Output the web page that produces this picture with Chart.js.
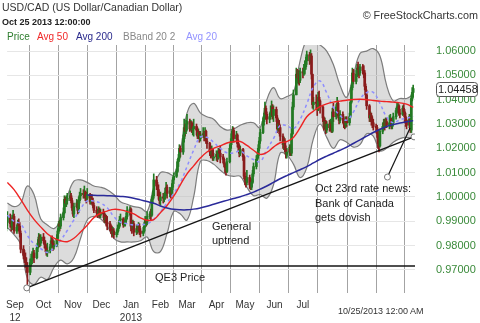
<!DOCTYPE html>
<html>
<head>
<meta charset="utf-8">
<script src="https://cdn.jsdelivr.net/npm/chart.js"></script>
<style>
    body { margin: 0; background: #fff; }
    #wrap { position: relative; width: 480px; height: 323px; overflow: hidden; font-family: 'Liberation Sans', Arial, sans-serif; }
    #myChart { position: absolute; left: 0; top: 0; }
    .txt { position: absolute; white-space: nowrap; line-height: 1; color: #222; }
</style>
</head>
<body>
<div id="wrap">
    <canvas id="myChart" width="480" height="323"></canvas>
    <div class="txt" style="left:2px;top:2px;font-size:10.5px;color:#333">USD/CAD (US Dollar/Canadian Dollar)</div>
    <div class="txt" style="left:2px;top:18px;font-size:9px;font-weight:bold;color:#222">Oct 25 2013 12:00:00</div>
    <div class="txt" style="right:2px;top:10px;font-size:10.8px;color:#333">© FreeStockCharts.com</div>
    <div class="txt" style="left:7px;top:32px;font-size:10px;color:#2e7d2e">Price</div>
    <div class="txt" style="left:37px;top:32px;font-size:10px;color:#f02828">Avg 50</div>
    <div class="txt" style="left:76px;top:32px;font-size:10px;color:#2a2a8c">Avg 200</div>
    <div class="txt" style="left:123px;top:32px;font-size:10px;color:#888">BBand 20 2</div>
    <div class="txt" style="left:186px;top:32px;font-size:10px;color:#9494ff">Avg 20</div>
    <div class="txt" style="left:212px;top:219px;font-size:11px;line-height:14px">General<br>uptrend</div>
    <div class="txt" style="left:315px;top:181px;font-size:11px;line-height:14.5px">Oct 23rd rate news:<br>Bank of Canada<br>gets dovish</div>
    <div class="txt" style="left:155px;top:272px;font-size:11px">QE3 Price</div>
    <div class="txt" style="left:338px;top:307px;font-size:9px;color:#333">10/25/2013 12:00 AM</div>
</div>
<script>
// days are counted from Sep 1 2012 (day 0)
const firstOpen = 0.9920;

// daily closes, one row per week (Mon..Fri), first row = week of Aug 20 2012
const closes = [
    0.9905, 0.9885, 0.9870, 0.9895, 0.9915,
    0.9890, 0.9880, 0.9905, 0.9920, 0.9860,
    0.9875, 0.9890, 0.9880, 0.9850, 0.9785,
    0.9760, 0.9750, 0.9730, 0.9716, 0.9690,
    0.9730, 0.9745, 0.9755, 0.9770, 0.9750,
    0.9790, 0.9810, 0.9835, 0.9810, 0.9835,
    0.9820, 0.9805, 0.9790, 0.9770, 0.9780,
    0.9795, 0.9820, 0.9810, 0.9795, 0.9800,
    0.9830, 0.9860, 0.9890, 0.9880, 0.9915,
    0.9935, 0.9990, 0.9975, 0.9985, 0.9995,
    1.0005, 0.9985, 0.9955, 0.9930, 0.9960,
    0.9975, 0.9945, 0.9985, 1.0005, 1.0015,
    1.0010, 1.0020, 1.0000, 0.9995, 1.0010,
    0.9980, 0.9995, 0.9985, 0.9965, 0.9945,
    0.9935, 0.9930, 0.9945, 0.9925, 0.9935,
    0.9930, 0.9905, 0.9915, 0.9895, 0.9890,
    0.9875, 0.9865, 0.9850, 0.9860, 0.9845,
    0.9855, 0.9870, 0.9880, 0.9905, 0.9910,
    0.9885, 0.9890, 0.9905, 0.9920, 0.9945,
    0.9950, 0.9880, 0.9870, 0.9890, 0.9855,
    0.9870, 0.9865, 0.9880, 0.9860, 0.9850,
    0.9860, 0.9880, 0.9905, 0.9895, 0.9920,
    0.9930, 0.9925, 0.9990, 1.0005, 1.0070,
    1.0045, 1.0030, 1.0010, 0.9985, 1.0000,
    0.9995, 1.0000, 1.0020, 1.0040, 1.0015,
    1.0025, 1.0015, 1.0040, 1.0070, 1.0085,
    1.0105, 1.0145, 1.0160, 1.0200, 1.0185,
    1.0240, 1.0285, 1.0270, 1.0300, 1.0310,
    1.0280, 1.0305, 1.0275, 1.0280, 1.0290,
    1.0275, 1.0250, 1.0265, 1.0240, 1.0255,
    1.0260, 1.0245, 1.0270, 1.0230, 1.0220,
    1.0185, 1.0175, 1.0195, 1.0160, 1.0165,
    1.0175, 1.0160, 1.0190, 1.0180, 1.0165,
    1.0155, 1.0135, 1.0120, 1.0105, 1.0145,
    1.0200, 1.0225, 1.0260, 1.0275, 1.0240,
    1.0255, 1.0220, 1.0205, 1.0180, 1.0195,
    1.0165, 1.0085, 1.0070, 1.0060, 1.0080,
    1.0050, 1.0040, 1.0060, 1.0095, 1.0125,
    1.0155, 1.0170, 1.0200, 1.0230, 1.0265,
    1.0310, 1.0330, 1.0365, 1.0340, 1.0320,
    1.0330, 1.0350, 1.0370, 1.0335, 1.0360,
    1.0325, 1.0280, 1.0300, 1.0285, 1.0250,
    1.0215, 1.0230, 1.0195, 1.0175, 1.0185,
    1.0205, 1.0180, 1.0260, 1.0370, 1.0420,
    1.0505, 1.0490, 1.0505, 1.0480, 1.0515,
    1.0510, 1.0525, 1.0535, 1.0560, 1.0585,
    1.0560, 1.0580, 1.0505, 1.0380, 1.0390,
    1.0385, 1.0360, 1.0410, 1.0395, 1.0370,
    1.0325, 1.0290, 1.0310, 1.0275, 1.0300,
    1.0285, 1.0300, 1.0270, 1.0350, 1.0330,
    1.0370, 1.0385, 1.0335, 1.0315, 1.0340,
    1.0320, 1.0300, 1.0295, 1.0315, 1.0305,
    1.0330, 1.0390, 1.0450, 1.0510, 1.0475,
    1.0505, 1.0530, 1.0525, 1.0510, 1.0535,
    1.0520, 1.0510, 1.0455, 1.0420, 1.0375,
    1.0325, 1.0335, 1.0310, 1.0305, 1.0290,
    1.0285, 1.0260, 1.0220, 1.0210, 1.0270,
    1.0290, 1.0305, 1.0295, 1.0310, 1.0295,
    1.0305, 1.0320, 1.0290, 1.0305, 1.0330,
    1.0355, 1.0370, 1.0375, 1.0345, 1.0340,
    1.0365, 1.0350, 1.0330, 1.0315, 1.0295,
    1.0330, 1.0275, 1.0405, 1.0430, 1.04458
];

const highs = [
    0.9935, 0.9925, 0.9900, 0.9910, 0.9940,
    0.9930, 0.9910, 0.9925, 0.9945, 0.9930,
    0.9885, 0.9905, 0.9910, 0.9895, 0.9860,
    0.9800, 0.9780, 0.9770, 0.9750, 0.9730,
    0.9745, 0.9765, 0.9775, 0.9790, 0.9780,
    0.9800, 0.9825, 0.9850, 0.9845, 0.9845,
    0.9850, 0.9835, 0.9820, 0.9800, 0.9810,
    0.9805, 0.9835, 0.9840, 0.9825, 0.9820,
    0.9845, 0.9870, 0.9900, 0.9905, 0.9930,
    0.9955, 1.0005, 1.0000, 1.0005, 1.0015,
    1.0025, 1.0015, 0.9995, 0.9965, 0.9975,
    0.9990, 0.9985, 1.0000, 1.0020, 1.0035,
    1.0030, 1.0045, 1.0025, 1.0020, 1.0035,
    1.0015, 1.0010, 1.0010, 0.9995, 0.9975,
    0.9960, 0.9950, 0.9960, 0.9955, 0.9950,
    0.9950, 0.9940, 0.9930, 0.9925, 0.9920,
    0.9900, 0.9885, 0.9880, 0.9875, 0.9870,
    0.9865, 0.9885, 0.9895, 0.9920, 0.9930,
    0.9915, 0.9900, 0.9915, 0.9935, 0.9960,
    0.9960, 0.9955, 0.9895, 0.9905, 0.9900,
    0.9885, 0.9885, 0.9895, 0.9890, 0.9870,
    0.9875, 0.9895, 0.9920, 0.9915, 0.9940,
    0.9940, 0.9950, 1.0000, 1.0025, 1.0095,
    1.0085, 1.0060, 1.0050, 1.0020, 1.0020,
    1.0015, 1.0015, 1.0035, 1.0060, 1.0050,
    1.0040, 1.0035, 1.0055, 1.0080, 1.0100,
    1.0115, 1.0155, 1.0175, 1.0215, 1.0210,
    1.0255, 1.0320, 1.0300, 1.0315, 1.0340,
    1.0320, 1.0315, 1.0310, 1.0300, 1.0320,
    1.0300, 1.0285, 1.0280, 1.0270, 1.0270,
    1.0285, 1.0270, 1.0285, 1.0275, 1.0245,
    1.0225, 1.0200, 1.0210, 1.0200, 1.0180,
    1.0190, 1.0185, 1.0200, 1.0200, 1.0210,
    1.0175, 1.0160, 1.0140, 1.0130, 1.0160,
    1.0215, 1.0240, 1.0270, 1.0290, 1.0285,
    1.0270, 1.0260, 1.0235, 1.0215, 1.0210,
    1.0200, 1.0170, 1.0100, 1.0085, 1.0110,
    1.0090, 1.0065, 1.0075, 1.0110, 1.0140,
    1.0170, 1.0185, 1.0215, 1.0245, 1.0280,
    1.0325, 1.0345, 1.0390, 1.0375, 1.0350,
    1.0345, 1.0375, 1.0395, 1.0380, 1.0375,
    1.0370, 1.0335, 1.0320, 1.0315, 1.0295,
    1.0260, 1.0245, 1.0240, 1.0210, 1.0200,
    1.0215, 1.0215, 1.0280, 1.0390, 1.0440,
    1.0530, 1.0525, 1.0520, 1.0520, 1.0530,
    1.0530, 1.0545, 1.0560, 1.0575, 1.0600,
    1.0595, 1.0605, 1.0590, 1.0500, 1.0410,
    1.0420, 1.0400, 1.0430, 1.0435, 1.0400,
    1.0375, 1.0330, 1.0325, 1.0315, 1.0310,
    1.0315, 1.0320, 1.0310, 1.0365, 1.0385,
    1.0380, 1.0410, 1.0395, 1.0340, 1.0355,
    1.0350, 1.0330, 1.0320, 1.0330, 1.0330,
    1.0345, 1.0400, 1.0460, 1.0530, 1.0525,
    1.0520, 1.0545, 1.0555, 1.0535, 1.0545,
    1.0545, 1.0540, 1.0520, 1.0465, 1.0440,
    1.0380, 1.0350, 1.0345, 1.0330, 1.0320,
    1.0300, 1.0295, 1.0275, 1.0235, 1.0280,
    1.0305, 1.0320, 1.0320, 1.0325, 1.0325,
    1.0335, 1.0340, 1.0325, 1.0320, 1.0345,
    1.0365, 1.0385, 1.0385, 1.0380, 1.0360,
    1.0375, 1.0380, 1.0360, 1.0345, 1.0320,
    1.0340, 1.0335, 1.0420, 1.0450, 1.0460
];

const lows = [
    0.9890, 0.9870, 0.9855, 0.9860, 0.9880,
    0.9875, 0.9860, 0.9865, 0.9890, 0.9850,
    0.9850, 0.9860, 0.9860, 0.9835, 0.9770,
    0.9745, 0.9730, 0.9710, 0.9690, 0.9640,
    0.9680, 0.9715, 0.9725, 0.9740, 0.9730,
    0.9745, 0.9775, 0.9795, 0.9795, 0.9800,
    0.9810, 0.9790, 0.9775, 0.9760, 0.9755,
    0.9770, 0.9790, 0.9795, 0.9780, 0.9785,
    0.9795, 0.9820, 0.9850, 0.9860, 0.9870,
    0.9905, 0.9930, 0.9960, 0.9960, 0.9970,
    0.9985, 0.9975, 0.9945, 0.9920, 0.9915,
    0.9955, 0.9930, 0.9935, 0.9975, 0.9990,
    0.9995, 0.9995, 0.9985, 0.9975, 0.9985,
    0.9970, 0.9970, 0.9970, 0.9955, 0.9935,
    0.9925, 0.9915, 0.9920, 0.9915, 0.9915,
    0.9915, 0.9895, 0.9895, 0.9880, 0.9865,
    0.9860, 0.9850, 0.9835, 0.9840, 0.9830,
    0.9835, 0.9845, 0.9860, 0.9875, 0.9890,
    0.9875, 0.9880, 0.9880, 0.9895, 0.9910,
    0.9925, 0.9860, 0.9850, 0.9865, 0.9840,
    0.9845, 0.9850, 0.9855, 0.9845, 0.9835,
    0.9840, 0.9855, 0.9875, 0.9880, 0.9885,
    0.9910, 0.9905, 0.9920, 0.9975, 0.9995,
    1.0030, 1.0005, 0.9990, 0.9970, 0.9965,
    0.9975, 0.9980, 0.9990, 1.0005, 0.9995,
    1.0000, 0.9995, 1.0005, 1.0030, 1.0055,
    1.0080, 1.0100, 1.0125, 1.0150, 1.0165,
    1.0175, 1.0225, 1.0250, 1.0260, 1.0275,
    1.0270, 1.0275, 1.0265, 1.0255, 1.0250,
    1.0255, 1.0240, 1.0240, 1.0225, 1.0230,
    1.0245, 1.0230, 1.0240, 1.0220, 1.0200,
    1.0170, 1.0160, 1.0165, 1.0150, 1.0150,
    1.0150, 1.0145, 1.0155, 1.0165, 1.0140,
    1.0140, 1.0125, 1.0100, 1.0090, 1.0100,
    1.0140, 1.0190, 1.0215, 1.0245, 1.0225,
    1.0230, 1.0205, 1.0190, 1.0165, 1.0170,
    1.0150, 1.0075, 1.0050, 1.0040, 1.0050,
    1.0035, 1.0030, 1.0030, 1.0055, 1.0085,
    1.0115, 1.0145, 1.0160, 1.0190, 1.0220,
    1.0260, 1.0295, 1.0320, 1.0320, 1.0300,
    1.0305, 1.0320, 1.0340, 1.0320, 1.0310,
    1.0310, 1.0265, 1.0270, 1.0260, 1.0230,
    1.0200, 1.0195, 1.0185, 1.0160, 1.0160,
    1.0170, 1.0170, 1.0170, 1.0255, 1.0360,
    1.0420, 1.0470, 1.0465, 1.0460, 1.0470,
    1.0490, 1.0500, 1.0505, 1.0525, 1.0545,
    1.0545, 1.0550, 1.0485, 1.0365, 1.0360,
    1.0360, 1.0335, 1.0355, 1.0380, 1.0345,
    1.0310, 1.0275, 1.0280, 1.0260, 1.0265,
    1.0270, 1.0275, 1.0265, 1.0265, 1.0310,
    1.0320, 1.0355, 1.0325, 1.0300, 1.0305,
    1.0305, 1.0285, 1.0280, 1.0285, 1.0290,
    1.0295, 1.0325, 1.0385, 1.0440, 1.0465,
    1.0465, 1.0495, 1.0500, 1.0490, 1.0500,
    1.0505, 1.0490, 1.0440, 1.0405, 1.0360,
    1.0310, 1.0310, 1.0295, 1.0285, 1.0275,
    1.0265, 1.0245, 1.0200, 1.0185, 1.0205,
    1.0260, 1.0280, 1.0275, 1.0285, 1.0285,
    1.0280, 1.0295, 1.0280, 1.0280, 1.0295,
    1.0320, 1.0345, 1.0350, 1.0335, 1.0325,
    1.0335, 1.0340, 1.0305, 1.0290, 1.0280,
    1.0285, 1.0265, 1.0265, 1.0395, 1.0410
];

// indicator lines, one value per week (Fridays)
const indDays = [
    -8, -1, 6, 13, 20, 27, 34, 41, 48, 55, 62, 69, 76, 83, 90, 97, 104, 111, 118, 125,
    132, 139, 146, 153, 160, 167, 174, 181, 188, 195, 202, 209, 216, 223, 230, 237, 244, 251, 258, 265,
    272, 279, 286, 293, 300, 307, 314, 321, 328, 335, 342, 349, 356, 363, 370, 377, 384, 391, 398, 405,
    412, 419
];
const avg20 = [
    0.9925, 0.9900, 0.9889, 0.9842, 0.9807, 0.9788, 0.9772, 0.9791, 0.9822, 0.9862,
    0.9906, 0.9951, 0.9984, 0.9983, 0.9975, 0.9956, 0.9919, 0.9896, 0.9890, 0.9885,
    0.9887, 0.9889, 0.9908, 0.9939, 0.9976, 1.0015, 1.0059, 1.0125, 1.0193, 1.0246,
    1.0245, 1.0225, 1.0200, 1.0182, 1.0181, 1.0189, 1.0169, 1.0154, 1.0145, 1.0195,
    1.0240, 1.0294, 1.0293, 1.0281, 1.0319, 1.0382, 1.0453, 1.0477, 1.0428, 1.0369,
    1.0335, 1.0316, 1.0349, 1.0402, 1.0429, 1.0430, 1.0385, 1.0329, 1.0305, 1.0318,
    1.0324, 1.0332
];
const bandUpper = [
    0.9975, 0.9960, 0.9975, 1.0045, 1.0010, 0.9910, 0.9885, 0.9870, 0.9905, 1.0000,
    1.0065, 1.0070, 1.0060, 1.0045, 1.0040, 1.0030, 1.0010, 0.9980, 0.9970, 0.9960,
    0.9955, 0.9940, 1.0040, 1.0100, 1.0100, 1.0090, 1.0190, 1.0345, 1.0385, 1.0346,
    1.0330, 1.0320, 1.0290, 1.0275, 1.0280, 1.0295, 1.0305, 1.0305, 1.0285, 1.0400,
    1.0450, 1.0405, 1.0413, 1.0430, 1.0560, 1.0645, 1.0640, 1.0625, 1.0600, 1.0545,
    1.0460, 1.0410, 1.0500, 1.0590, 1.0600, 1.0610, 1.0580, 1.0460, 1.0395, 1.0405,
    1.0405, 1.0420
];
const bandLower = [
    0.9875, 0.9845, 0.9805, 0.9665, 0.9640, 0.9670, 0.9660, 0.9710, 0.9740, 0.9725,
    0.9750, 0.9830, 0.9905, 0.9920, 0.9910, 0.9880, 0.9830, 0.9815, 0.9815, 0.9815,
    0.9820, 0.9835, 0.9775, 0.9775, 0.9850, 0.9940, 0.9930, 0.9905, 1.0000, 1.0146,
    1.0150, 1.0135, 1.0110, 1.0090, 1.0085, 1.0085, 1.0040, 1.0005, 1.0010, 0.9995,
    1.0050, 1.0180, 1.0173, 1.0135, 1.0080, 1.0120, 1.0240, 1.0300, 1.0245, 1.0200,
    1.0235, 1.0225, 1.0205, 1.0215, 1.0260, 1.0250, 1.0190, 1.0200, 1.0225, 1.0240,
    1.0245, 1.0240
];
const avg50 = [
    1.0060, 1.0030, 0.9990, 0.9946, 0.9908, 0.9877, 0.9849, 0.9831, 0.9820, 0.9816,
    0.9830, 0.9856, 0.9884, 0.9915, 0.9933, 0.9942, 0.9949, 0.9947, 0.9940, 0.9930,
    0.9914, 0.9904, 0.9907, 0.9935, 0.9965, 1.0003, 1.0050, 1.0095, 1.0128, 1.0160,
    1.0185, 1.0200, 1.0210, 1.0222, 1.0227, 1.0228, 1.0212, 1.0192, 1.0175, 1.0183,
    1.0205, 1.0223, 1.0228, 1.0245, 1.0285, 1.0330, 1.0353, 1.0372, 1.0383, 1.0390,
    1.0394, 1.0398, 1.0401, 1.0402, 1.0400, 1.0397, 1.0394, 1.0392, 1.0390, 1.0387,
    1.0382, 1.0368
];
// the 200-day line only starts in November
const avg200 = [
    null, null, null, null, null, null, null, null, null, null,
    null, null, 1.0008, 1.0007, 1.0006, 1.0005, 1.0004, 1.0002, 1.0000, 0.9995,
    0.9988, 0.9981, 0.9974, 0.9963, 0.9955, 0.9949, 0.9947, 0.9947, 0.9950, 0.9955,
    0.9962, 0.9970, 0.9978, 0.9986, 0.9994, 1.0001, 1.0010, 1.0020, 1.0032, 1.0045,
    1.0060, 1.0075, 1.0088, 1.0100, 1.0112, 1.0125, 1.0140, 1.0155, 1.0168, 1.0180,
    1.0192, 1.0205, 1.0220, 1.0235, 1.0250, 1.0265, 1.0278, 1.0290, 1.0298, 1.0304,
    1.0309, 1.0314
];

// axis
const monthDays = [0, 30, 61, 91, 122, 153, 181, 212, 242, 273, 303, 334, 365, 395];
const monthLabels = [['Sep', '12'], 'Oct', 'Nov', 'Dec', ['Jan', '2013'], 'Feb', 'Mar', 'Apr', 'May', 'Jun', 'Jul', '', '', ''];
const yTicks = [0.97, 0.98, 0.99, 1.00, 1.01, 1.02, 1.03, 1.04, 1.05, 1.06];

// drawn notes: [day, price]
const qe3Price = 0.97164;
const trendLine = [[12.4, 0.9626], [419.9, 1.0247]];
const newsPointer = [[391.9, 1.0082], [415.7, 1.0284]];

const xMin = -8.3;
const xMax = 420.9;
const UP = '#237a23';
const DOWN = '#8a1c1c';

function dayOf(i) {
    return -12 + 7 * Math.floor(i / 5) + (i % 5);
}

const opens = closes.map((c, i) => i === 0 ? firstOpen : closes[i - 1]);
const candleColors = closes.map((c, i) => c >= opens[i] ? UP : DOWN);
const wickData = closes.map((c, i) => ({x: dayOf(i), y: [lows[i], highs[i]]}));
const bodyData = closes.map((c, i) => ({x: dayOf(i), y: [opens[i], c]}));

function linePts(values) {
    const pts = [];
    values.forEach((v, i) => {
        if (v !== null) pts.push({x: indDays[i], y: v});
    });
    return pts;
}

const lastPriceBox = {
    id: 'lastPriceBox',
    afterDraw(chart) {
        const c = chart.ctx;
        const last = closes[closes.length - 1];
        const y = Math.round(chart.scales.y.getPixelForValue(last)) + 0.5;
        c.save();
        c.beginPath();
        c.roundRect(436.5, y - 7, 41, 14, 3);
        c.fillStyle = '#fff';
        c.fill();
        c.strokeStyle = '#555';
        c.lineWidth = 1;
        c.stroke();
        c.fillStyle = '#222';
        c.font = "11px 'Liberation Sans', Arial, sans-serif";
        c.textBaseline = 'middle';
        c.fillText(last.toFixed(5), 438, y + 0.5);
        c.restore();
    }
};

const ctx = document.getElementById('myChart').getContext('2d');

const myChart = new Chart(ctx, {
    type: 'bar',
    data: {
        datasets: [
            {
                type: 'line',
                data: linePts(bandUpper),
                borderColor: '#7c7c7c',
                borderWidth: 1.2,
                backgroundColor: 'rgba(185,185,185,0.5)',
                fill: '+1',
                pointRadius: 0,
                tension: 0.4,
                order: 10
            },
            {
                type: 'line',
                data: linePts(bandLower),
                borderColor: '#7c7c7c',
                borderWidth: 1.2,
                fill: false,
                pointRadius: 0,
                tension: 0.4,
                order: 9
            },
            {
                data: wickData,
                backgroundColor: candleColors,
                barThickness: 1,
                grouped: false,
                order: 6
            },
            {
                data: bodyData,
                backgroundColor: candleColors,
                barThickness: 2,
                minBarLength: 1,
                grouped: false,
                order: 5
            },
            {
                type: 'line',
                data: linePts(avg20),
                borderColor: '#8e8eff',
                borderWidth: 1.5,
                borderDash: [3, 3],
                pointRadius: 0,
                tension: 0.4,
                order: 4
            },
            {
                type: 'line',
                data: linePts(avg50),
                borderColor: '#ee2424',
                borderWidth: 1.4,
                pointRadius: 0,
                tension: 0.4,
                order: 3
            },
            {
                type: 'line',
                data: linePts(avg200),
                borderColor: '#2a2a9a',
                borderWidth: 1.5,
                pointRadius: 0,
                tension: 0.4,
                order: 2
            },
            {
                type: 'line',
                data: [{x: xMin, y: qe3Price}, {x: xMax, y: qe3Price}],
                borderColor: '#151515',
                borderWidth: 1.5,
                pointRadius: 0,
                order: 1
            },
            {
                type: 'line',
                data: trendLine.map(p => ({x: p[0], y: p[1]})),
                borderColor: '#151515',
                borderWidth: 1.4,
                pointRadius: 3,
                pointBackgroundColor: '#fff',
                pointBorderColor: '#777',
                pointBorderWidth: 1,
                order: 0
            },
            {
                type: 'line',
                data: newsPointer.map(p => ({x: p[0], y: p[1]})),
                borderColor: '#151515',
                borderWidth: 1.2,
                pointRadius: [3, 0],
                pointBackgroundColor: '#fff',
                pointBorderColor: '#777',
                pointBorderWidth: 1,
                order: 0
            }
        ]
    },
    options: {
        responsive: false,
        animation: false,
        devicePixelRatio: 1,
        layout: {padding: {top: 45, left: 0, right: 0, bottom: 0}},
        plugins: {
            legend: {display: false},
            tooltip: {enabled: false}
        },
        scales: {
            x: {
                type: 'linear',
                min: xMin,
                max: xMax,
                offset: false,
                border: {display: false},
                grid: {color: '#a3a3a3', lineWidth: 1, drawTicks: false},
                afterBuildTicks: axis => {
                    axis.ticks = monthDays.map(v => ({value: v}));
                },
                afterFit: axis => {
                    axis.height = 30;
                },
                ticks: {
                    autoSkip: false,
                    maxRotation: 0,
                    padding: 6,
                    color: '#333',
                    font: {family: "'Liberation Sans', Arial, sans-serif", size: 10, lineHeight: 1.3},
                    callback: (v, i) => monthLabels[i]
                }
            },
            y: {
                position: 'right',
                min: 0.9605,
                max: 1.0625,
                border: {display: false},
                grid: {color: '#e6e6e6', lineWidth: 1, drawTicks: false},
                afterBuildTicks: axis => {
                    axis.ticks = yTicks.map(v => ({value: v}));
                },
                afterFit: axis => {
                    axis.width = 65;
                },
                ticks: {
                    padding: 21,
                    color: '#3a8a3a',
                    font: {family: "'Liberation Sans', Arial, sans-serif", size: 11},
                    callback: v => v.toFixed(5)
                }
            }
        }
    },
    plugins: [lastPriceBox]
});
</script>
</body>
</html>
